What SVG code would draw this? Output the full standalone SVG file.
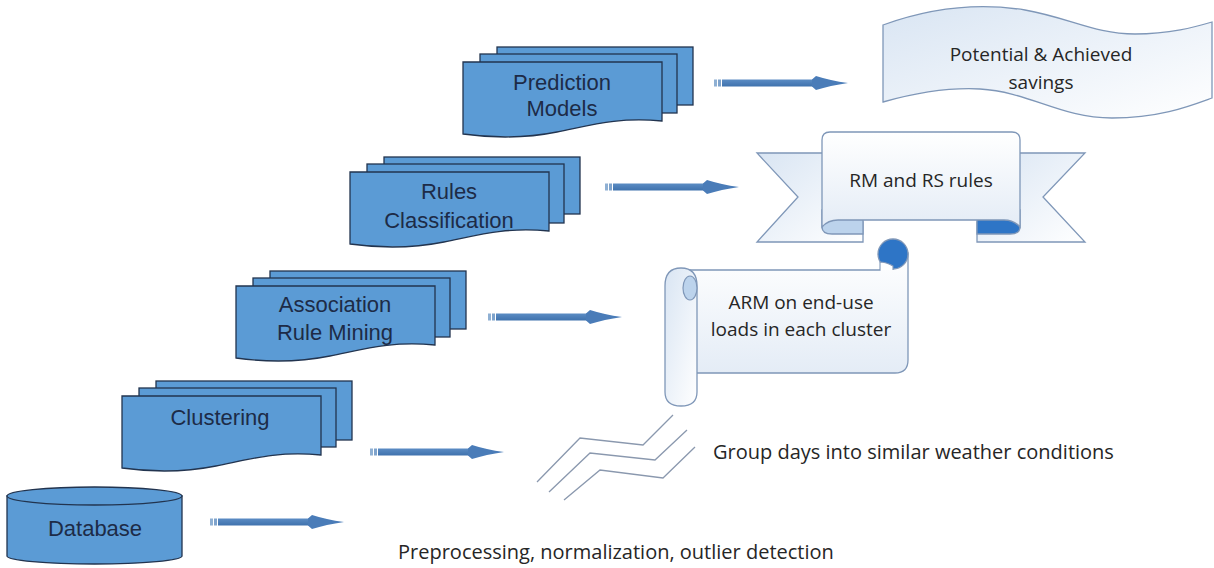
<svg xmlns="http://www.w3.org/2000/svg" xmlns:xlink="http://www.w3.org/1999/xlink" width="1214" height="568" viewBox="0 0 1214 568">
<style>
.doc{fill:#5b9bd5;stroke:#22344f;stroke-width:1.3}
.btxt{font-family:"Liberation Sans",Arial,sans-serif;font-size:22px;fill:#1d2b47;text-anchor:middle}
.ctxt{font-family:"Open Sans","Liberation Sans",sans-serif;font-size:19px;fill:#262626}
.wide{font-size:20px}
.light{stroke:#7f97b8;stroke-width:1.3}
.zig{fill:none;stroke:#8a98ae;stroke-width:1.3}
</style>
<defs>
<linearGradient id="lg" x1="0" y1="0" x2="1" y2="1">
<stop offset="0" stop-color="#d9e5f3"/><stop offset="1" stop-color="#ffffff"/>
</linearGradient>
<linearGradient id="lg2" x1="0" y1="0" x2="0" y2="1">
<stop offset="0" stop-color="#ffffff"/><stop offset="1" stop-color="#e4ecf6"/>
</linearGradient>
<linearGradient id="ag" x1="0" y1="0" x2="0" y2="1">
<stop offset="0" stop-color="#5b8cc4"/><stop offset="1" stop-color="#3f72ad"/>
</linearGradient>
<g id="arrow">
<rect x="0" y="-3.5" width="3" height="7" fill="#8fb0d3"/>
<rect x="4" y="-3.5" width="3" height="7" fill="#7ea3cc"/>
<rect x="8" y="-3.5" width="92" height="7" fill="url(#ag)"/>
<path d="M98,-3.5 L102,-7 Q116,-2.5 134,0 Q116,2.5 102,7 L98,3.5 Z" fill="#4a7cb8"/>
</g>
</defs>
<rect width="1214" height="568" fill="#ffffff"/>

<g id="connectors">
<use href="#arrow" x="714" y="83"/>
<use href="#arrow" x="605" y="187"/>
<use href="#arrow" x="488" y="317"/>
<use href="#arrow" x="370" y="452"/>
<use href="#arrow" x="210" y="522"/>
</g>

<g id="prediction-models">
<rect class="doc" x="497" y="47" width="196" height="58"/>
<rect class="doc" x="480" y="54" width="197" height="59"/>
<path class="doc" d="M463,62 H662 V121 C617,117 592,125 557,132 C527,138 492,138 463,134 Z"/>
<text class="btxt" x="562" y="90">Prediction</text>
<text class="btxt" x="562" y="116">Models</text>
</g>

<g id="rules-classification">
<rect class="doc" x="384" y="157" width="196" height="57"/>
<rect class="doc" x="367" y="164" width="197" height="59"/>
<path class="doc" d="M350,172 H549 V231 C504,227 479,235 444,242 C414,248 379,248 350,244 Z"/>
<text class="btxt" x="449" y="199">Rules</text>
<text class="btxt" x="449" y="228">Classification</text>
</g>

<g id="association-rule-mining">
<rect class="doc" x="270" y="271" width="196" height="58"/>
<rect class="doc" x="253" y="278" width="197" height="59"/>
<path class="doc" d="M236,286 H435 V345 C390,341 365,349 330,356 C300,362 265,362 236,358 Z"/>
<text class="btxt" x="335" y="312">Association</text>
<text class="btxt" x="335" y="340">Rule Mining</text>
</g>

<g id="clustering">
<rect class="doc" x="156" y="381" width="196" height="59"/>
<rect class="doc" x="139" y="388" width="197" height="59"/>
<path class="doc" d="M122,396 H321 V455 C276,451 251,459 216,466 C186,472 151,472 122,468 Z"/>
<text class="btxt" x="220" y="425">Clustering</text>
</g>

<g id="database">
<path class="doc" d="M7,496 V556 A87.5,8 0 0 0 182,556 V496 Z"/>
<ellipse class="doc" cx="94.5" cy="496" rx="87.5" ry="9"/>
<text class="btxt" x="95" y="536">Database</text>
</g>

<g id="potential-savings">
<path class="light" fill="url(#lg)" d="M883,25 C930,8 975,2 1025,10 C1070,18 1095,34 1135,34 C1170,34 1195,27 1212,22 L1212,98 C1190,106 1160,118 1112,118 C1060,118 1030,92 980,89 C942,87 908,95 883,102 Z"/>
<text class="ctxt" x="1041" y="61" text-anchor="middle">Potential &amp; Achieved</text>
<text class="ctxt" x="1041" y="89" text-anchor="middle">savings</text>
</g>

<g id="rm-rs-rules">
<path class="light" fill="url(#lg)" d="M757,153 H830 V222 H863 V242 H757 L798,197 Z"/>
<path class="light" fill="url(#lg)" d="M1085,153 H1012 V222 H977 V242 H1085 L1043,197 Z"/>
<path class="light" fill="#bcd3ec" d="M863,210 V234 H832 Q822,234 822,227 V210 Z"/>
<path class="light" fill="#2e75c6" d="M977,210 V234 H1010 Q1020,234 1020,227 V210 Z"/>
<path class="light" fill="url(#lg2)" d="M830,132 H1012 Q1020,132 1020,140 V227 Q1014,220 1004,220 H838 Q828,220 822,227 V140 Q822,132 830,132 Z"/>
<text class="ctxt" x="921" y="187" text-anchor="middle">RM and RS rules</text>
</g>

<g id="arm-loads">
<path class="light" fill="url(#lg2)" d="M690,270 H880 L893,253 H908 V360 Q908,373 895,373 H690 Z"/>
<circle cx="893" cy="254" r="15" fill="#2e75c6" stroke="#7f97b8" stroke-width="1.3"/>
<path d="M880,270 V262 Q886,262 893,266 V270" fill="#ffffff" stroke="#7f97b8" stroke-width="1.1"/>
<path class="light" fill="url(#lg)" d="M665,286 Q665,268 681,268 Q697,268 697,286 V392 Q697,406 681,406 Q665,406 665,392 Z"/>
<ellipse cx="690" cy="288" rx="7" ry="12" fill="#bcd3ec" stroke="#7f97b8" stroke-width="1.2"/>
<text class="ctxt" x="801" y="309" text-anchor="middle">ARM on end-use</text>
<text class="ctxt" x="801" y="336" text-anchor="middle">loads in each cluster</text>
</g>

<g id="group-days">
<polyline class="zig" points="537,482 580,438 643,445 673,415"/>
<polyline class="zig" points="549,492 590,453 655,460 687,430"/>
<polyline class="zig" points="564,500 600,470 663,478 695,447"/>
<text class="ctxt wide" x="713" y="459">Group days into similar weather conditions</text>
</g>

<g id="preprocessing">
<text class="ctxt wide" x="398" y="559">Preprocessing, normalization, outlier detection</text>
</g>
</svg>
